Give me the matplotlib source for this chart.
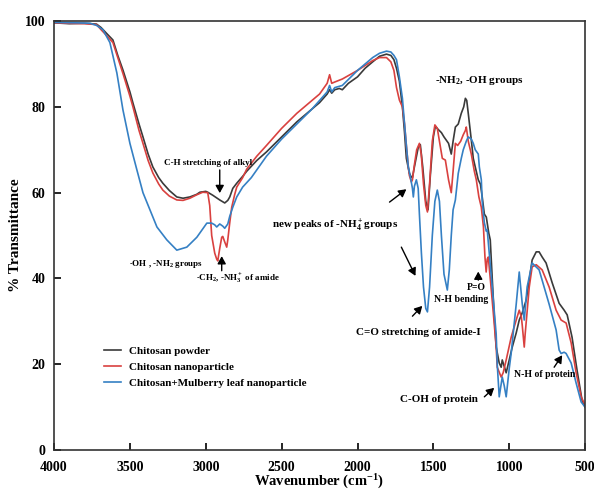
import matplotlib
matplotlib.use('Agg')
import matplotlib.pyplot as plt
import numpy as np

plt.rcParams['font.family'] = 'Liberation Serif'
plt.rcParams['font.weight'] = 'bold'
plt.rcParams['mathtext.fontset'] = 'custom'
plt.rcParams['mathtext.rm'] = 'Liberation Serif:bold'
plt.rcParams['mathtext.it'] = 'Liberation Serif:bold:italic'
plt.rcParams['mathtext.bf'] = 'Liberation Serif:bold'

# Chitosan powder (wavenumber, %T)
powder_wn = [4000, 3900, 3800, 3720, 3690, 3650, 3612, 3580, 3546, 3500, 3480, 3440, 3414, 3380,
             3349, 3310, 3283, 3240, 3191, 3150, 3105, 3060, 3039, 3000, 2987, 2954, 2908, 2875,
             2855, 2842, 2822, 2796, 2757, 2730, 2664, 2600, 2500, 2400, 2300, 2250, 2200, 2184,
             2170, 2150, 2120, 2100, 2060, 2000, 1950, 1900, 1855, 1809, 1780, 1760, 1743, 1724,
             1704, 1690, 1678, 1658, 1645, 1638, 1625, 1600, 1586, 1570, 1550, 1535, 1520, 1500,
             1487, 1470, 1447, 1430, 1400, 1382, 1370, 1355, 1336, 1316, 1300, 1289, 1280, 1270,
             1250, 1237, 1224, 1204, 1190, 1178, 1164, 1151, 1135, 1125, 1112, 1100, 1086, 1066,
             1053, 1046, 1033, 1020, 1000, 980, 954, 934, 914, 888, 868, 849, 822, 803, 783, 757,
             717, 671, 638, 618, 586, 553, 520, 500]
powder_t = [99.6, 99.4, 99.5, 99.3, 98.5, 97, 95.6, 92, 88.6, 83.5, 80.9, 76, 73, 69,
            66, 63.5, 62.2, 60.5, 59, 58.7, 59, 59.6, 60.1, 60.3, 60.1, 59.4, 58.3, 57.6,
            58.2, 59, 61, 62.2, 63.8, 65, 67.5, 69.5, 73, 76.5, 79.5, 81, 83, 84,
            83.2, 84, 84.3, 84, 85.5, 87, 89, 90.5, 91.8, 92.3, 92, 91, 89, 86,
            80, 74, 68, 64.5, 63.6, 63.5, 66, 70.5, 71.2, 66, 58, 56, 64, 73,
            75.5, 74.8, 74, 73, 71.5, 69, 72, 75.3, 76, 78.5, 80, 82, 81.5, 78.5,
            72.3, 68, 66, 63, 62, 59, 55, 54.3, 50.6, 49, 40, 32, 24, 20.3,
            19.3, 21, 19.5, 18, 21, 24, 27.3, 30.3, 32, 35, 39.6, 44.3, 46.2, 46.2, 45, 43.6,
            39, 34.2, 32.6, 31.5, 26.3, 18.6, 11.6, 10]

# Chitosan nanoparticle
nano_wn = [4000, 3800, 3720, 3690, 3650, 3612, 3580, 3546, 3500, 3480, 3440, 3414, 3380, 3349,
           3310, 3283, 3240, 3191, 3150, 3105, 3060, 3020, 2987, 2974, 2961, 2941, 2928, 2921,
           2908, 2895, 2888, 2875, 2862, 2855, 2842, 2829, 2810, 2796, 2757, 2730, 2664, 2600,
           2500, 2400, 2300, 2250, 2200, 2184, 2170, 2150, 2100, 2000, 1900, 1855, 1809, 1780,
           1760, 1743, 1724, 1704, 1690, 1678, 1665, 1658, 1645, 1638, 1625, 1610, 1592, 1580,
           1565, 1550, 1539, 1525, 1507, 1490, 1474, 1460, 1441, 1421, 1400, 1382, 1370, 1355,
           1340, 1320, 1303, 1289, 1283, 1270, 1250, 1230, 1217, 1200, 1184, 1170, 1160, 1152,
           1145, 1138, 1125, 1105, 1086, 1079, 1053, 1040, 1020, 987, 954, 934, 920, 914, 901,
           895, 868, 849, 822, 783, 737, 691, 658, 625, 592, 559, 526, 500]
nano_t = [99.6, 99.4, 99.2, 98, 96.5, 95, 91.5, 87.8, 82.5, 80, 74.5, 71.5, 67.5, 64.6,
          62, 60.6, 59.2, 58.3, 58.2, 58.7, 59.5, 60.1, 60, 57, 50, 45.9, 44.5, 44.1,
          47, 49.6, 49.8, 48.5, 47.3, 49, 53, 56.6, 59.5, 61.3, 63.5, 65.5, 68.5, 71,
          75, 78.5, 81.5, 83, 85.5, 87.5, 85.5, 85.8, 86.5, 88.5, 90.8, 91.5, 91.5, 90.5,
          88.5, 84.5, 81.6, 80, 76, 71, 66, 64, 62.5, 63, 66.5, 70, 71.5, 69,
          62, 57, 55.5, 62, 72, 75.8, 75, 72, 68, 67.6, 63, 60, 65, 71.5,
          71, 72, 73.5, 74.5, 75.3, 72, 69, 65, 63, 59, 56.6, 52, 45, 41.5,
          44.5, 45, 40, 32, 24, 19.3, 17, 18, 21, 26.3, 30.3, 32.6, 31, 29, 24,
          27, 38, 42.7, 43.2, 42, 38, 32.6, 30.3, 29.6, 25, 18, 12.4, 10.5]

# Chitosan + Mulberry leaf nanoparticle
mulb_wn = [4000, 3850, 3763, 3720, 3678, 3632, 3586, 3546, 3500, 3454, 3414, 3368, 3322, 3257,
           3191, 3125, 3059, 2993, 2961, 2941, 2928, 2908, 2888, 2875, 2855, 2842, 2822, 2796,
           2757, 2700, 2664, 2600, 2500, 2400, 2300, 2250, 2200, 2184, 2170, 2150, 2100, 2000,
           1900, 1855, 1809, 1780, 1760, 1743, 1724, 1704, 1690, 1678, 1665, 1651, 1638, 1632,
           1625, 1612, 1600, 1592, 1579, 1565, 1550, 1539, 1525, 1507, 1490, 1474, 1460, 1447,
           1430, 1408, 1395, 1382, 1370, 1355, 1336, 1316, 1303, 1283, 1270, 1250, 1237, 1224,
           1204, 1197, 1184, 1178, 1164, 1151, 1145, 1132, 1112, 1086, 1079, 1066, 1046, 1033,
           1020, 1000, 987, 954, 934, 914, 901, 882, 849, 803, 737, 691, 671, 658, 638, 625,
           592, 559, 526, 500]
mulb_t = [99.7, 99.6, 99.5, 99, 98, 95, 87.9, 79.3, 71.5, 65.3, 60, 56, 52, 49,
          46.6, 47.3, 49.6, 52.9, 52.9, 52.5, 52, 52.7, 52.2, 51.7, 52.7, 54.5, 56.6, 59,
          61.3, 63.5, 65.3, 68.5, 72.5, 76, 79.5, 81.5, 83.5, 85, 83.5, 84.5, 85, 88.5,
          91.5, 92.5, 93, 92.8, 92, 91, 87, 82, 76, 71, 66, 63.6, 61, 59,
          61.5, 63, 61, 55, 46, 38, 33, 32.2, 38, 50, 58, 60.6, 58, 50,
          41, 37.3, 42, 50, 56, 58.3, 64.5, 68, 70, 72, 73, 72.5, 71.5, 70,
          69, 66, 63, 58, 53, 51, 51.3, 46, 38, 27, 20, 12.4, 17, 15,
          12.4, 19, 22.6, 34, 41.5, 34, 30.3, 38, 43.6, 42, 34, 28, 23.3, 22.5, 22.8, 22.5,
          20.3, 15.6, 11.2, 10]

labels = ['Chitosan powder', 'Chitosan nanoparticle', 'Chitosan+Mulberry leaf nanoparticle']
colors = ['#3a3a3a', '#d9413f', '#3580c4']

fig = plt.figure(figsize=(5.94, 4.91), dpi=100)
ax = fig.add_axes([0.091, 0.0835, 0.894, 0.8735])

ax.plot(powder_wn, powder_t, color=colors[0], lw=1.2, label=labels[0])
ax.plot(nano_wn, nano_t, color=colors[1], lw=1.2, label=labels[1])
ax.plot(mulb_wn, mulb_t, color=colors[2], lw=1.2, label=labels[2])

ax.set_xlim(4000, 500)
ax.set_ylim(0, 100)
ax.set_xticks(np.arange(4000, 499, -500))
ax.set_yticks(np.arange(0, 101, 20))
ax.tick_params(direction='in', length=5, width=1.2, labelsize=10, top=False, right=False)
ax.tick_params(axis='x', pad=8)
ax.tick_params(axis='y', pad=6)
for s in ax.spines.values():
    s.set_linewidth(1.2)
    s.set_color('#333333')

ax.set_xlabel('Wavenumber (cm$^{-1}$)', fontsize=10.5, fontweight='bold', labelpad=-1)
ax.set_ylabel('% Transmittance', fontsize=11, fontweight='bold', labelpad=2)

ax.legend(loc='upper left', bbox_to_anchor=(0.075, 0.265), frameon=False, fontsize=8,
          handlelength=1.5, labelspacing=0.55, handletextpad=0.8)

arr = dict(arrowstyle='-|>,head_width=0.25,head_length=0.45', color='black', lw=1.0,
           shrinkA=0, shrinkB=0)

ax.text(2987, 66.9, 'C-H stretching of alkyl', fontsize=6.5, ha='center', va='center')
ax.annotate('', xy=(2908, 59.9), xytext=(2908, 65.3), arrowprops=dict(arr))
ax.text(3263, 43.4, '-OH , -NH$_2$ groups', fontsize=6.5, ha='center', va='center')
ax.text(2789, 40, '-CH$_2$, -NH$_3^+$ of amide', fontsize=6.5, ha='center', va='center')
ax.annotate('', xy=(2895, 45.2), xytext=(2895, 41.8), arrowprops=dict(arr))
ax.text(2151, 52.4, 'new peaks of -NH$_4^+$groups', fontsize=8, ha='center', va='center')
ax.annotate('', xy=(1678, 60.8), xytext=(1789, 57.8), arrowprops=dict(arr))
ax.annotate('', xy=(1618, 40.6), xytext=(1711, 47.3), arrowprops=dict(arr))
ax.text(1197, 86.2, '-NH$_2$, -OH groups', fontsize=8, ha='center', va='center')
ax.text(1217, 38, 'P=O', fontsize=7, ha='center', va='center')
ax.annotate('', xy=(1204, 41.6), xytext=(1204, 39.6), arrowprops=dict(arr))
ax.text(1316, 35, 'N-H bending', fontsize=7, ha='center', va='center')
ax.text(1599, 27.5, 'C=O stretching of amide-I', fontsize=8, ha='center', va='center')
ax.annotate('', xy=(1573, 33.6), xytext=(1638, 31.2), arrowprops=dict(arr))
ax.text(1461, 11.7, 'C-OH of protein', fontsize=8, ha='center', va='center')
ax.annotate('', xy=(1099, 14.5), xytext=(1164, 12.4), arrowprops=dict(arr))
ax.text(763, 17.5, 'N-H of protein', fontsize=7, ha='center', va='center')
ax.annotate('', xy=(651, 22.1), xytext=(704, 19.3), arrowprops=dict(arr))

fig.savefig('out.png', dpi=100)
